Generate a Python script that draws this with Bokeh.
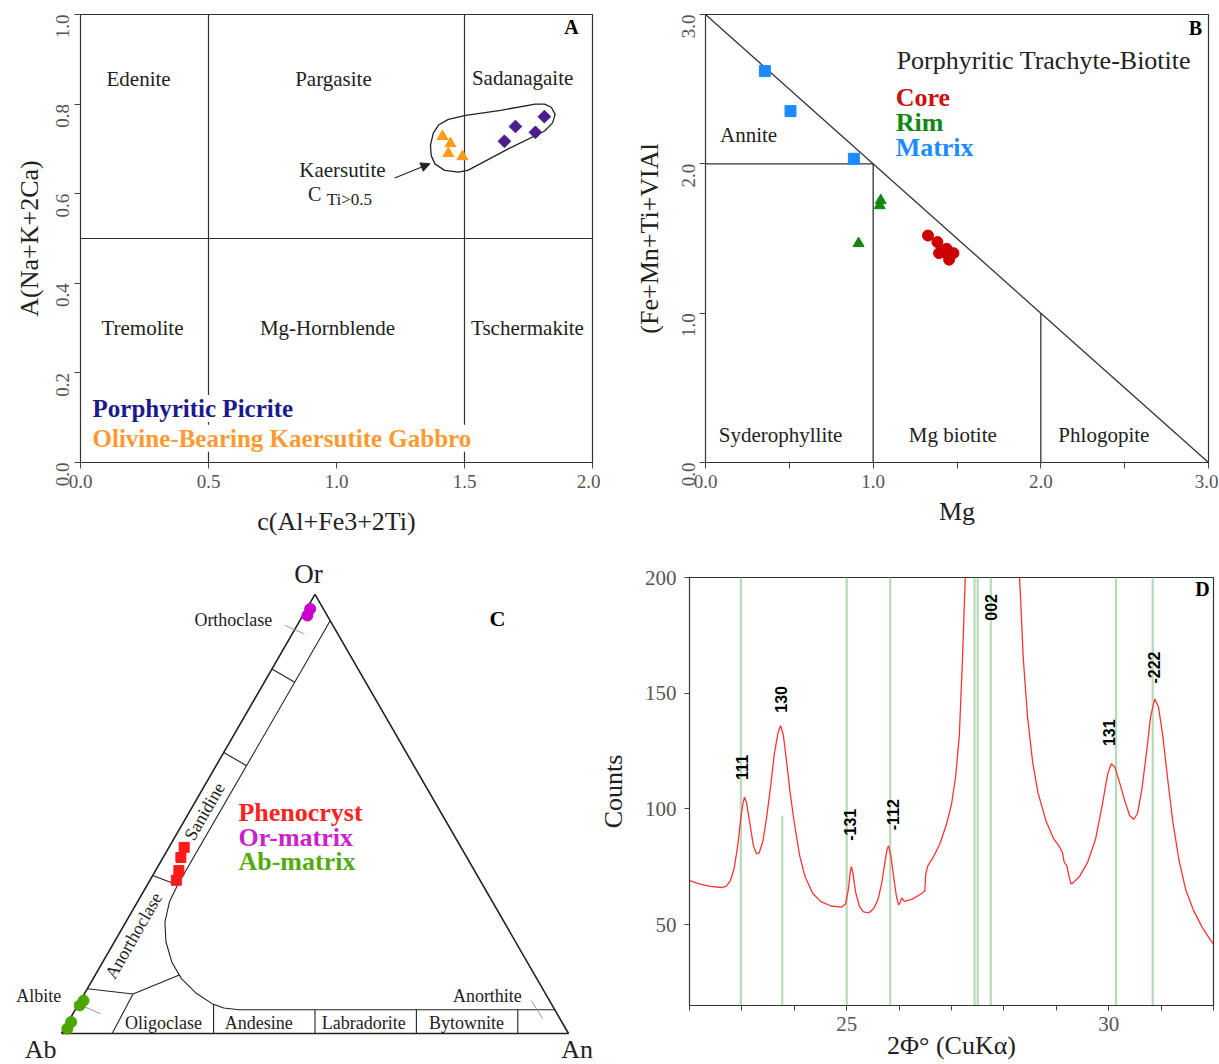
import math
from bokeh.plotting import figure
from bokeh.models import Label, Arrow, NormalHead, FixedTicker, PrintfTickFormatter, Range1d
from bokeh.layouts import column, row
from bokeh.embed import file_html
from bokeh.resources import INLINE

SERIF = "Liberation Serif"
SANS = "Liberation Sans"

# ---------------- Panel A : amphibole classification ----------------
a_picrite_c = [1.656, 1.699, 1.777, 1.812]
a_picrite_a = [0.717, 0.750, 0.737, 0.772]
a_gabbro_c = [1.414, 1.445, 1.437, 1.492]
a_gabbro_a = [0.728, 0.712, 0.690, 0.683]
a_env_c = [1.367, 1.378, 1.400, 1.437, 1.505, 1.641, 1.776, 1.813, 1.839, 1.854,
           1.844, 1.813, 1.671, 1.513, 1.475, 1.423, 1.385, 1.370]
a_env_a = [0.708, 0.735, 0.754, 0.766, 0.775, 0.786, 0.800, 0.800, 0.793, 0.777,
           0.758, 0.740, 0.700, 0.652, 0.648, 0.652, 0.666, 0.685]
a_x_ticks = [0.0, 0.5, 1.0, 1.5, 2.0]
a_y_ticks = [0.0, 0.2, 0.4, 0.6, 0.8, 1.0]
a_c_bounds = [0.5, 1.5]
a_a_bound = 0.5

# ---------------- Panel B : biotite classification ----------------
b_core_mg = [1.327, 1.383, 1.393, 1.439, 1.479, 1.453, 1.421]
b_core_fe = [1.520, 1.476, 1.402, 1.431, 1.402, 1.358, 1.409]
b_rim_mg = [1.045, 1.039, 0.913]
b_rim_fe = [1.755, 1.721, 1.467]
b_matrix_mg = [0.354, 0.507, 0.885]
b_matrix_fe = [2.621, 2.353, 2.034]
b_ticks = [0, 1, 2, 3]
b_minor_ticks = [0.5, 1.5, 2.5]
b_bound_x0 = [0, 0, 1, 2]
b_bound_y0 = [3, 2, 0, 0]
b_bound_x1 = [3, 1, 1, 2]
b_bound_y1 = [0, 2, 2, 1]

# ---------------- Panel C : feldspar ternary (Or, An fractions) ----------------
c_pheno_or = [0.424, 0.401, 0.371, 0.349]
c_pheno_an = [0.030, 0.035, 0.046, 0.052]
c_ormat_or = [0.952, 0.967]
c_ormat_an = [0.009, 0.007]
c_abmat_or = [0.075, 0.064, 0.026, 0.011]
c_abmat_an = [0.006, 0.004, 0.006, 0.006]
c_tri_or = [0, 0, 1, 0]
c_tri_an = [0, 1, 0, 0]
c_gap_or = [0.94, 0.338, 0.300, 0.254, 0.209, 0.163, 0.125, 0.091, 0.068, 0.058, 0.054, 0.054]
c_gap_an = [0.06, 0.060, 0.063, 0.077, 0.1015, 0.136, 0.174, 0.221, 0.263, 0.291, 0.323, 0.946]
c_seg_or0 = [0.83, 0.64, 0.36, 0.102, 0.090, 0.090, 0.0, 0.0, 0.0, 0.0]
c_seg_an0 = [0.00, 0.00, 0.00, 0.000, 0.096, 0.096, 0.3, 0.5, 0.7, 0.9]
c_seg_or1 = [0.80, 0.61, 0.338, 0.090, 0.133, 0.0, 0.066, 0.054, 0.054, 0.054]
c_seg_an1 = [0.06, 0.06, 0.060, 0.096, 0.166, 0.10, 0.267, 0.473, 0.673, 0.873]

# ---------------- Panel D : XRD pattern ----------------
d_theta = [22.00, 22.20, 22.40, 22.60, 22.70, 22.78, 22.85, 22.92, 22.98, 23.02,
           23.05, 23.09, 23.15, 23.22, 23.28, 23.33, 23.40, 23.47, 23.55, 23.62,
           23.69, 23.74, 23.79, 23.85, 23.92, 24.00, 24.10, 24.20, 24.35, 24.50,
           24.70, 24.90, 24.98, 25.03, 25.07, 25.09, 25.12, 25.17, 25.24, 25.32,
           25.42, 25.52, 25.60, 25.67, 25.73, 25.77, 25.80, 25.84, 25.90, 25.95,
           25.99, 26.02, 26.05, 26.10, 26.25, 26.40, 26.49, 26.51, 26.55, 26.65,
           26.78, 26.90, 27.00, 27.08, 27.15, 27.21, 27.27, 27.35, 27.50, 27.70,
           27.90, 28.10, 28.25, 28.31, 28.37, 28.45, 28.55, 28.65, 28.80, 28.95,
           29.05, 29.12, 29.15, 29.20, 29.24, 29.28, 29.32, 29.45, 29.60, 29.75,
           29.88, 29.98, 30.05, 30.12, 30.20, 30.30, 30.40, 30.48, 30.55, 30.63,
           30.72, 30.80, 30.88, 30.95, 31.03, 31.12, 31.22, 31.34, 31.47, 31.62,
           31.78, 31.92, 32.00]
d_counts = [69.0, 67.5, 66.5, 66.0, 66.5, 69.0, 74.0, 84.0, 96.0, 102.5,
            105.0, 102.5, 94.0, 84.0, 80.5, 81.0, 86.0, 96.0, 110.0, 124.0,
            133.0, 136.0, 132.0, 121.0, 107.0, 94.0, 80.0, 71.0, 63.5, 60.0,
            58.0, 57.5, 59.0, 65.0, 73.0, 75.0, 72.0, 64.0, 58.0, 55.5,
            55.0, 57.0, 61.0, 68.0, 77.0, 82.5, 84.0, 80.0, 70.0, 62.0,
            58.5, 59.5, 61.5, 60.0, 61.0, 63.0, 64.5, 72.0, 75.5, 79.0,
            85.0, 93.0, 102.0, 114.0, 132.0, 165.0, 205.0, 270.0, 380.0, 460.0,
            420.0, 310.0, 220.0, 195.0, 165.0, 140.0, 120.0, 107.0, 95.0, 87.0,
            84.0, 81.0, 77.0, 75.5, 71.0, 67.5, 68.0, 71.0, 77.0, 87.0,
            102.0, 115.0, 119.5, 118.0, 112.0, 104.0, 97.0, 95.5, 98.0, 108.0,
            124.0, 140.0, 147.5, 144.0, 132.0, 114.0, 95.0, 78.0, 65.0, 56.0,
            49.0, 44.0, 41.5]
d_ref_lines = [22.98, 25.00, 25.83, 27.44, 27.50, 27.75, 30.14, 30.84]
d_ref_partial = 23.77
d_ref_partial_top = 97
d_peak_labels = ["111", "130", "-131", "-112", "002", "131", "-222"]
d_peak_x = [23.01, 23.75, 25.07, 25.89, 27.76, 30.00, 30.87]
d_peak_y = [117.9, 147.3, 93.1, 97.5, 187.1, 132.9, 161.1]
d_y_ticks = [50, 100, 150, 200]
d_x_ticks = [25, 30]
d_x_minor = [22, 23, 24, 25, 26, 27, 28, 29, 30, 31, 32]


def lab(p, x, y, text, size, color="black", bold=False, font=SERIF, angle=0.0,
        align="center", baseline="middle", bg=None):
    l = Label(x=x, y=y, text=text, text_font=font, text_font_size=f"{size}px",
              text_color=color, text_font_style="bold" if bold else "normal",
              angle=angle, text_align=align, text_baseline=baseline)
    if bg is not None:
        l.background_fill_color = bg
    p.add_layout(l)


def style_axes(p, size="19px"):
    for ax in p.axis:
        ax.major_label_text_font = SERIF
        ax.major_label_text_font_size = size
        ax.major_label_text_color = "#555555"
        ax.axis_line_color = "#333333"
        ax.major_tick_line_color = "#444444"
        ax.minor_tick_line_color = "#444444"
        ax.major_tick_in = 0
        ax.major_tick_out = 6
        ax.minor_tick_in = 0
        ax.minor_tick_out = 0
        ax.axis_label_text_font = SERIF
        ax.axis_label_text_font_size = "26px"
        ax.axis_label_text_font_style = "normal"
        ax.axis_label_text_color = "#222222"
    p.grid.visible = False
    p.outline_line_color = "#333333"
    p.outline_line_width = 1.2
    p.background_fill_color = "white"
    p.border_fill_color = "white"


# ======================= Panel A =======================
pA = figure(width=600, height=540, x_range=Range1d(0, 2), y_range=Range1d(0, 1),
            min_border_left=80, min_border_right=8, min_border_top=14, min_border_bottom=78,
            toolbar_location=None, output_backend="svg",
            x_axis_label="c(Al+Fe3+2Ti)", y_axis_label="A(Na+K+2Ca)")
style_axes(pA)
pA.xaxis.ticker = FixedTicker(ticks=a_x_ticks)
pA.yaxis.ticker = FixedTicker(ticks=a_y_ticks)
pA.xaxis.formatter = PrintfTickFormatter(format="%.1f")
pA.yaxis.formatter = PrintfTickFormatter(format="%.1f")
pA.yaxis.major_label_orientation = math.pi / 2
pA.xaxis.major_label_standoff = 6
pA.yaxis.major_label_standoff = 12
pA.xaxis.axis_label_standoff = 16
pA.yaxis.axis_label_standoff = 3

for c in a_c_bounds:
    pA.segment(x0=c, y0=0, x1=c, y1=1, line_color="#333333", line_width=1.2)
pA.segment(x0=0, y0=a_a_bound, x1=2, y1=a_a_bound, line_color="#333333", line_width=1.2)

pA.patch(a_env_c, a_env_a, fill_color=None, line_color="#222222", line_width=1.3)
pA.scatter(a_gabbro_c, a_gabbro_a, marker="triangle", size=11, fill_color="#ff9a1a",
           line_color="#ff9a1a")
pA.scatter(a_picrite_c, a_picrite_a, marker="square", angle=math.pi / 4, size=9,
           fill_color="#4b1c8c", line_color="#4b1c8c")

pA.add_layout(Arrow(end=NormalHead(size=9, fill_color="#222222", line_color="#222222"),
                    x_start=1.227, y_start=0.635, x_end=1.365, y_end=0.667,
                    line_color="#222222", line_width=1.2))

for name, x, y in [("Edenite", 0.227, 0.857), ("Pargasite", 0.988, 0.857),
                   ("Sadanagaite", 1.727, 0.859), ("Tremolite", 0.242, 0.301),
                   ("Mg-Hornblende", 0.965, 0.301), ("Tschermakite", 1.746, 0.301)]:
    lab(pA, x, y, name, 21, color="#222222")
lab(pA, 1.023, 0.654, "Kaersutite", 21, color="#222222")
lab(pA, 0.915, 0.600, "C", 20, color="#222222")
lab(pA, 1.050, 0.587, "Ti>0.5", 17, color="#222222")
lab(pA, 1.918, 0.971, "A", 20, bold=True)
lab(pA, 0.047, 0.1205, "Porphyritic Picrite", 25, color="#1a1a8a", bold=True,
    align="left", bg="white")
lab(pA, 0.047, 0.054, "Olivine-Bearing Kaersutite Gabbro", 25, color="#ff9a33",
    bold=True, align="left", bg="white")

# ======================= Panel B =======================
pB = figure(width=618, height=540, x_range=Range1d(0, 3), y_range=Range1d(0, 3),
            min_border_left=105, min_border_right=10, min_border_top=14, min_border_bottom=78,
            toolbar_location=None, output_backend="svg",
            x_axis_label="Mg", y_axis_label="(Fe+Mn+Ti+VIAl")
style_axes(pB)
pB.xaxis.ticker = FixedTicker(ticks=b_ticks, minor_ticks=b_minor_ticks)
pB.yaxis.ticker = FixedTicker(ticks=b_ticks)
pB.xaxis.formatter = PrintfTickFormatter(format="%.1f")
pB.yaxis.formatter = PrintfTickFormatter(format="%.1f")
pB.xaxis.minor_tick_out = 6
pB.yaxis.major_label_orientation = math.pi / 2
pB.xaxis.major_label_standoff = 6
pB.yaxis.major_label_standoff = 11
pB.xaxis.axis_label_standoff = 6
pB.yaxis.axis_label_standoff = 9

pB.segment(x0=b_bound_x0, y0=b_bound_y0, x1=b_bound_x1, y1=b_bound_y1,
           line_color="#333333", line_width=1.3)
pB.scatter(b_matrix_mg, b_matrix_fe, marker="square", size=11, fill_color="#1a8cff",
           line_color="#1a8cff")
pB.scatter(b_rim_mg, b_rim_fe, marker="triangle", size=11, fill_color="#118811",
           line_color="#118811")
pB.scatter(b_core_mg, b_core_fe, marker="circle", size=11, fill_color="#cc0000",
           line_color="#cc0000")

lab(pB, 2.922, 2.907, "B", 20, bold=True)
lab(pB, 2.018, 2.693, "Porphyritic Trachyte-Biotite", 26, color="#222222")
lab(pB, 1.134, 2.445, "Core", 26, color="#cc1111", bold=True, align="left")
lab(pB, 1.134, 2.277, "Rim", 26, color="#118811", bold=True, align="left")
lab(pB, 1.134, 2.110, "Matrix", 26, color="#1a8cff", bold=True, align="left")
lab(pB, 0.257, 2.19, "Annite", 21, color="#222222")
lab(pB, 0.448, 0.181, "Syderophyllite", 21, color="#222222")
lab(pB, 1.475, 0.181, "Mg biotite", 21, color="#222222")
lab(pB, 2.376, 0.181, "Phlogopite", 21, color="#222222")

# ======================= Panel C =======================
S3 = math.sqrt(3) / 2


def tu(o, a):
    return [ai + oi / 2 for oi, ai in zip(o, a)]


def tv(o):
    return [oi * S3 for oi in o]


pC = figure(width=594, height=523, x_range=Range1d(-0.1203, 1.0513),
            y_range=Range1d(-0.05917, 0.97239),
            min_border_left=0, min_border_right=0, min_border_top=0, min_border_bottom=0,
            toolbar_location=None, output_backend="svg")
pC.axis.visible = False
pC.grid.visible = False
pC.outline_line_color = None

pC.line(tu(c_tri_or, c_tri_an), tv(c_tri_or), line_color="#222222", line_width=1.6)
pC.line(tu(c_gap_or, c_gap_an), tv(c_gap_or), line_color="#222222", line_width=1.1)
pC.segment(x0=tu(c_seg_or0, c_seg_an0), y0=tv(c_seg_or0),
           x1=tu(c_seg_or1, c_seg_an1), y1=tv(c_seg_or1),
           line_color="#222222", line_width=1.1)
pC.segment(x0=[0.441, 0.0243, 0.9266], y0=[0.805, 0.0617, 0.0653],
           x1=[0.479, 0.0769, 0.9493], y1=[0.788, 0.0389, 0.0292],
           line_color="#999999", line_width=1)

pC.scatter(tu(c_pheno_or, c_pheno_an), tv(c_pheno_or), marker="square", size=10,
           fill_color="#ff1a1a", line_color="#ff1a1a")
pC.scatter(tu(c_ormat_or, c_ormat_an), tv(c_ormat_or), marker="circle", size=11,
           fill_color="#cc00cc", line_color="#cc00cc")
pC.scatter(tu(c_abmat_or, c_abmat_an), tv(c_abmat_or), marker="circle", size=11,
           fill_color="#4ca600", line_color="#4ca600")

lab(pC, 0.487, 0.907, "Or", 27, color="#222222")
lab(pC, -0.041, -0.031, "Ab", 26, color="#222222")
lab(pC, 1.017, -0.031, "An", 26, color="#222222")
lab(pC, 0.860, 0.819, "C", 22, bold=True)
lab(pC, 0.339, 0.815, "Orthoclase", 18, color="#222222")
lab(pC, -0.045, 0.073, "Albite", 18, color="#222222")
lab(pC, 0.840, 0.073, "Anorthite", 18, color="#222222")
lab(pC, 0.282, 0.438, "Sanidine", 18, color="#222222", angle=math.pi / 3)
lab(pC, 0.142, 0.193, "Anorthoclase", 18, color="#222222", angle=math.pi / 3)
lab(pC, 0.201, 0.020, "Oligoclase", 18, color="#222222")
lab(pC, 0.389, 0.020, "Andesine", 18, color="#222222")
lab(pC, 0.596, 0.020, "Labradorite", 18, color="#222222")
lab(pC, 0.799, 0.020, "Bytownite", 18, color="#222222")
lab(pC, 0.349, 0.436, "Phenocryst", 26, color="#ff2222", bold=True, align="left")
lab(pC, 0.349, 0.387, "Or-matrix", 26, color="#cc22cc", bold=True, align="left")
lab(pC, 0.349, 0.339, "Ab-matrix", 26, color="#55aa11", bold=True, align="left")

# ======================= Panel D =======================
pD = figure(width=624, height=523, x_range=Range1d(22, 32), y_range=Range1d(15, 200),
            min_border_left=95, min_border_right=5, min_border_top=37, min_border_bottom=58,
            toolbar_location=None, output_backend="svg",
            x_axis_label="2\u03a6\u00b0 (CuK\u03b1)", y_axis_label="Counts")
style_axes(pD, size="21px")
pD.xaxis.ticker = FixedTicker(ticks=d_x_ticks, minor_ticks=d_x_minor)
pD.yaxis.ticker = FixedTicker(ticks=d_y_ticks)
pD.xaxis.minor_tick_out = 5
pD.xaxis.major_tick_out = 5
pD.yaxis.major_tick_out = 5
pD.xaxis.major_label_standoff = 6
pD.yaxis.major_label_standoff = 8
pD.xaxis.axis_label_standoff = -3
pD.yaxis.axis_label_standoff = 14

pD.segment(x0=d_ref_lines, y0=15, x1=d_ref_lines, y1=200, line_color="#b7dbb7",
           line_width=2.2)
pD.segment(x0=d_ref_partial, y0=15, x1=d_ref_partial, y1=d_ref_partial_top,
           line_color="#b7dbb7", line_width=2.2)
pD.line(d_theta, d_counts, line_color="#ff3333", line_width=1.3)

for t, x, y in zip(d_peak_labels, d_peak_x, d_peak_y):
    lab(pD, x, y, t, 16, bold=True, font=SANS, angle=math.pi / 2)
lab(pD, 31.79, 195.2, "D", 20, bold=True)

layout = column(row(pA, pB), row(column(pC), column(pD)))
open("out.html", "w").write(file_html(layout, INLINE))
